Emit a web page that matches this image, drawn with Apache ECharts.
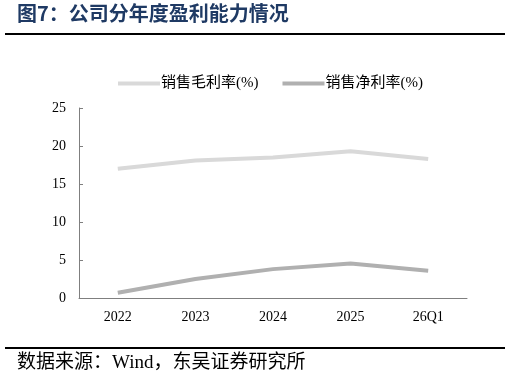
<!DOCTYPE html>
<html>
<head>
<meta charset="utf-8">
<script src="https://cdn.jsdelivr.net/npm/echarts@6/dist/echarts.min.js"></script>
<style>
  html, body { margin: 0; padding: 0; background: #fff; }
  #chart { width: 510px; height: 382px; }
</style>
</head>
<body>
<div id="chart"></div>
<script>
// 年份
const years = ['2022', '2023', '2024', '2025', '26Q1']
// 销售毛利率(%)
const grossMargin = [17.0, 18.1, 18.5, 19.3, 18.3]
// 销售净利率(%)
const netMargin = [0.7, 2.5, 3.8, 4.55, 3.6]

const serif = '"Liberation Serif", "Noto Sans CJK SC", serif'

const chart = echarts.init(document.getElementById('chart'))
chart.setOption({
  animation: false,
  backgroundColor: '#fff',
  graphic: [
    {
      type: 'text', left: 17, top: 3,
      style: { text: '图7：公司分年度盈利能力情况', fill: '#1f3a64', font: 'bold 20px "Noto Sans CJK SC"' }
    },
    {
      type: 'rect', shape: { x: 5, y: 33, width: 500, height: 2 }, style: { fill: '#000' }
    },
    {
      type: 'rect', shape: { x: 5, y: 347, width: 500, height: 2 }, style: { fill: '#000' }
    },
    {
      type: 'text', left: 17, top: 354,
      style: { text: '数据来源：Wind，东吴证券研究所', fill: '#000', font: '19px ' + serif }
    }
  ],
  legend: {
    top: 71,
    left: 113,
    itemWidth: 42,
    itemHeight: 4,
    itemGap: 24,
    icon: 'rect',
    textStyle: { fontFamily: serif, fontSize: 15, color: '#000', padding: [0, 0, 0, -4] },
    data: ['销售毛利率(%)', '销售净利率(%)']
  },
  grid: { left: 79, right: 43, top: 108, bottom: 84, containLabel: false },
  xAxis: {
    type: 'category',
    data: years,
    boundaryGap: true,
    axisLine: { lineStyle: { color: '#7f7f7f', width: 1 } },
    axisTick: { inside: true, length: 5, lineStyle: { color: '#7f7f7f' } },
    axisLabel: { color: '#000', fontFamily: serif, fontSize: 14, margin: 12 }
  },
  yAxis: {
    type: 'value',
    min: 0,
    max: 25,
    interval: 5,
    splitLine: { show: false },
    axisLine: { show: true, lineStyle: { color: '#7f7f7f', width: 1 } },
    axisTick: { show: true, inside: true, length: 4, lineStyle: { color: '#7f7f7f' } },
    axisLabel: { color: '#000', fontFamily: serif, fontSize: 14, margin: 13 }
  },
  series: [
    {
      name: '销售毛利率(%)',
      type: 'line',
      data: grossMargin,
      showSymbol: false,
      symbol: 'none',
      itemStyle: { color: '#d9d9d9' },
      lineStyle: { color: '#d9d9d9', width: 4 }
    },
    {
      name: '销售净利率(%)',
      type: 'line',
      data: netMargin,
      showSymbol: false,
      symbol: 'none',
      itemStyle: { color: '#b0b0b0' },
      lineStyle: { color: '#b0b0b0', width: 4 }
    }
  ]
})
</script>
</body>
</html>
